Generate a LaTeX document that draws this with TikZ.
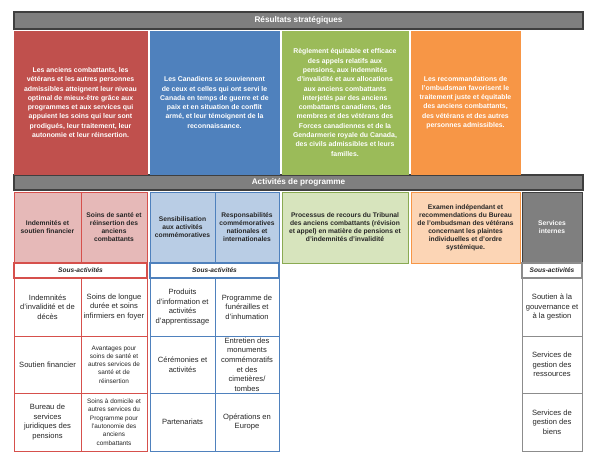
\documentclass[tikz,border=0pt]{standalone}
\usepackage{fontspec}
\setmainfont{Liberation Sans}
\definecolor{outRed}{HTML}{C0504D}
\definecolor{outBlue}{HTML}{4F81BD}
\definecolor{outGreen}{HTML}{9BBB59}
\definecolor{outOrange}{HTML}{F79646}
\definecolor{hdrGrey}{HTML}{7F7F7F}
\definecolor{hdrDark}{HTML}{3F3F3F}
\definecolor{pRedFill}{HTML}{E6B9B8}
\definecolor{pRedLine}{HTML}{D6504C}
\definecolor{pBlueFill}{HTML}{B9CDE5}
\definecolor{pBlueLine}{HTML}{4F81BD}
\definecolor{pGreenFill}{HTML}{D7E4BD}
\definecolor{pGreenLine}{HTML}{8AAA52}
\definecolor{pOrangeFill}{HTML}{FCD5B5}
\definecolor{pOrangeLine}{HTML}{F79646}
\definecolor{subGrey}{HTML}{8C8C8C}
\definecolor{txtDark}{HTML}{262626}
\newcommand\bx[7]{\node[#2, minimum width={#5-#3}, minimum height={#6-#4}] (#1) at ({(#3+#5)/2},{(#4+#6)/2}) {#7};}
\tikzset{
  base/.style={rectangle, inner sep=0pt, outer sep=0pt, align=center},
  hdr/.style={base, fill=hdrGrey, draw=hdrDark, line width=1.2pt, text=white, font=\bfseries\fontsize{8.2}{9}\selectfont},
  outc/.style={base, line width=0.8pt, text=white, font=\bfseries\fontsize{6.9}{9.3}\selectfont},
  prog/.style={base, line width=0.9pt, text=txtDark, font=\bfseries\fontsize{6.7}{8}\selectfont},
  subhdr/.style={base, fill=white, line width=1.2pt, text=txtDark, font=\bfseries\itshape\fontsize{6.6}{7}\selectfont},
  sub/.style={base, fill=white, line width=0.9pt, text=txtDark, font=\fontsize{7.6}{9.6}\selectfont},
  subsm/.style={sub, font=\fontsize{6.4}{8.3}\selectfont},
}
\begin{document}
\begin{tikzpicture}[x=1pt,y=-1pt]
\useasboundingbox (0,0) rectangle (595,466);
% headers
\bx{h1}{hdr}{14}{12}{583}{29}{Résultats stratégiques}
\bx{h2}{hdr}{14}{175}{583}{190}{Activités de programme}
% strategic outcomes
\bx{o1}{outc, fill=outRed, draw=outRed}{14}{31}{147}{174}{Les anciens combattants, les\\vétérans et les autres personnes\\admissibles atteignent leur niveau\\optimal de mieux-être grâce aux\\programmes et aux services qui\\appuient les soins qui leur sont\\prodigués, leur traitement, leur\\autonomie et leur réinsertion.}
\bx{o2}{outc, fill=outBlue, draw=outBlue}{150}{31}{279}{174}{Les Canadiens se souviennent\\de ceux et celles qui ont servi le\\Canada en temps de guerre et de\\paix et en situation de conflit\\armé, et leur témoignent de la\\reconnaissance.}
\bx{o3}{outc, fill=outGreen, draw=outGreen}{282}{31}{408}{174}{Règlement équitable et efficace\\des appels relatifs aux\\pensions, aux indemnités\\d'invalidité et aux allocations\\aux anciens combattants\\interjetés par des anciens\\combattants canadiens, des\\membres et des vétérans des\\Forces canadiennes et de la\\Gendarmerie royale du Canada,\\des civils admissibles et leurs\\familles.}
\bx{o4}{outc, fill=outOrange, draw=outOrange}{411}{31}{520}{174}{Les recommandations de\\l'ombudsman favorisent le\\traitement juste et équitable\\des anciens combattants,\\des vétérans et des autres\\personnes admissibles.}
% program activities
\bx{p1}{prog, fill=pRedFill, draw=pRedLine}{14}{192}{81}{263}{Indemnités et\\soutien financier}
\bx{p2}{prog, fill=pRedFill, draw=pRedLine}{81}{192}{147}{263}{Soins de santé et\\réinsertion des\\anciens\\combattants}
\bx{p3}{prog, fill=pBlueFill, draw=pBlueLine}{150}{192}{215}{263}{Sensibilisation\\aux activités\\commémoratives}
\bx{p4}{prog, fill=pBlueFill, draw=pBlueLine}{215}{192}{279}{263}{Responsabilités\\commémoratives\\nationales et\\internationales}
\bx{p5}{prog, fill=pGreenFill, draw=pGreenLine}{282}{192}{408}{263}{Processus de recours du Tribunal\\des anciens combattants (révision\\et appel) en matière de pensions et\\d'indemnités d'invalidité}
\bx{p6}{prog, fill=pOrangeFill, draw=pOrangeLine}{411}{192}{520}{263}{Examen indépendant et\\recommendations du Bureau\\de l'ombudsman des vétérans\\concernant les plaintes\\individuelles et d'ordre\\systémique.}
\bx{p7}{prog, fill=hdrGrey, draw=hdrDark, text=white}{522}{192}{582}{263}{Services\\internes}
% sub-activities red
\bx{sr0}{subhdr, draw=pRedLine}{14}{263}{147}{278}{Sous-activités}
\bx{sr1}{sub, draw=pRedLine}{14}{278}{81}{336}{Indemnités\\d'invalidité et de\\décès}
\bx{sr2}{sub, draw=pRedLine}{14}{336}{81}{393}{Soutien financier}
\bx{sr3}{sub, draw=pRedLine}{14}{393}{81}{451}{Bureau de\\services\\juridiques des\\pensions}
\bx{sr4}{sub, draw=pRedLine}{81}{278}{147}{336}{Soins de longue\\durée et soins\\infirmiers en foyer}
\bx{sr5}{subsm, draw=pRedLine}{81}{336}{147}{393}{Avantages pour\\soins de santé et\\autres services de\\santé et de\\réinsertion}
\bx{sr6}{subsm, draw=pRedLine}{81}{393}{147}{451}{Soins à domicile et\\autres services du\\Programme pour\\l'autonomie des\\anciens\\combattants}
% sub-activities blue
\bx{sb0}{subhdr, draw=pBlueLine}{150}{263}{279}{278}{Sous-activités}
\bx{sb1}{sub, draw=pBlueLine}{150}{278}{215}{336}{Produits\\d'information et\\activités\\d'apprentissage}
\bx{sb2}{sub, draw=pBlueLine}{150}{336}{215}{393}{Cérémonies et\\activités}
\bx{sb3}{sub, draw=pBlueLine}{150}{393}{215}{451}{Partenariats}
\bx{sb4}{sub, draw=pBlueLine}{215}{278}{279}{336}{Programme de\\funérailles et\\d'inhumation}
\bx{sb5}{sub, draw=pBlueLine}{215}{336}{279}{393}{Entretien des\\monuments\\commémoratifs\\et des\\cimetières/\\tombes}
\bx{sb6}{sub, draw=pBlueLine}{215}{393}{279}{451}{Opérations en\\Europe}
% sub-activities grey
\bx{sg0}{subhdr, draw=subGrey}{522}{263}{582}{278}{Sous-activités}
\bx{sg1}{sub, draw=subGrey}{522}{278}{582}{336}{Soutien à la\\gouvernance et\\à la gestion}
\bx{sg2}{sub, draw=subGrey}{522}{336}{582}{393}{Services de\\gestion des\\ressources}
\bx{sg3}{sub, draw=subGrey}{522}{393}{582}{451}{Services de\\gestion des\\biens}
\end{tikzpicture}
\end{document}
